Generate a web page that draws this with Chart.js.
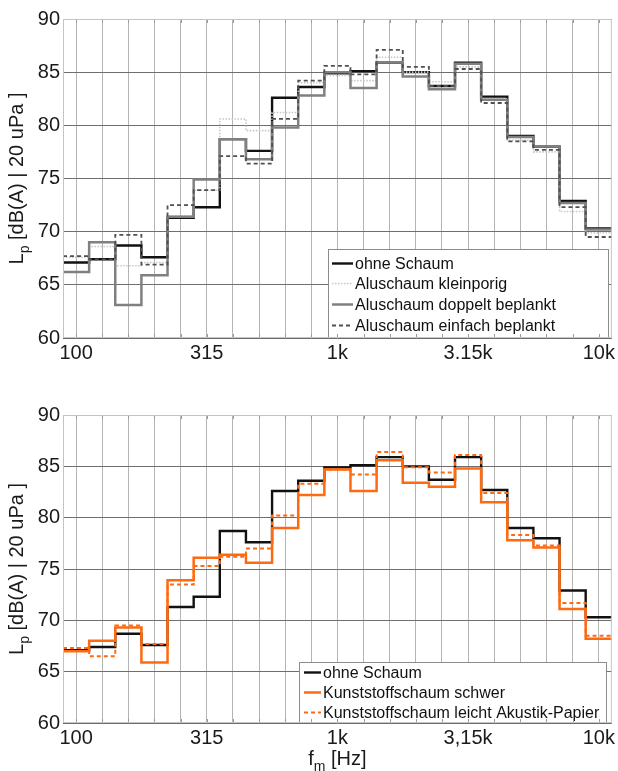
<!DOCTYPE html>
<html>
<head>
<meta charset="utf-8">
<title>Schalldruckpegel Terzspektren</title>
<script src="https://cdn.jsdelivr.net/npm/chart.js@4.4.1/dist/chart.umd.min.js"></script>
<style>
  html, body { margin: 0; padding: 0; background: #fff; }
  .panel { position: relative; width: 618px; }
  #panelTop { height: 380px; }
  #panelBottom { height: 391px; }
</style>
</head>
<body>
<div class="panel" id="panelTop"><canvas id="chartTop"></canvas></div>
<div class="panel" id="panelBottom"><canvas id="chartBottom"></canvas></div>
<script>
// Third-octave band centre frequencies (x categories)
const bands = ['100', '125', '160', '200', '250', '315', '400', '500', '630', '800',
  '1k', '1,25k', '1,6k', '2k', '2,5k', '3,15k', '4k', '5k', '6,3k', '8k', '10k'];

// Labelled x ticks (band index + text)
const tickIdx = [0, 5, 10, 15, 20];
const tickLabelsTop = ['100', '315', '1k', '3.15k', '10k'];
const tickLabelsBottom = ['100', '315', '1k', '3,15k', '10k'];

// y axis ticks, dB(A)
const yTicks = [60, 65, 70, 75, 80, 85, 90];

// Levels per band, dB(A)
const ohneSchaum    = [67.1, 67.4, 68.7, 67.6, 71.3, 72.3, 78.7, 77.6, 82.6, 83.6, 84.9, 85.1, 85.9, 85.0, 83.7, 85.9, 82.7, 79.0, 78.0, 72.9, 70.3];
const aluKleinporig = [67.6, 68.6, 66.8, 67.1, 71.5, 73.9, 80.6, 79.5, 81.2, 84.0, 84.7, 84.2, 86.4, 85.0, 84.1, 85.5, 82.5, 78.6, 77.5, 71.9, 69.9];
const aluDoppelt    = [66.2, 69.0, 63.1, 65.9, 71.4, 74.9, 78.7, 76.8, 79.8, 82.8, 85.0, 83.5, 85.9, 84.6, 83.4, 85.8, 82.4, 78.9, 78.0, 72.7, 70.2];
const aluEinfach    = [67.7, 67.4, 69.7, 66.9, 72.5, 73.9, 77.1, 76.4, 80.6, 84.2, 85.6, 84.8, 87.1, 85.5, 83.7, 85.3, 82.1, 78.5, 77.7, 72.3, 69.5];
const kunstSchwer   = [67.0, 68.0, 69.3, 65.9, 73.9, 76.1, 76.4, 75.6, 79.0, 82.2, 84.7, 82.6, 85.6, 83.4, 83.0, 84.8, 81.5, 77.8, 77.1, 71.1, 68.2];
const kunstLeicht   = [67.3, 66.5, 69.5, 67.7, 73.5, 75.3, 76.2, 77.0, 80.2, 83.3, 84.7, 84.2, 86.4, 84.9, 84.4, 86.1, 82.4, 78.3, 77.3, 71.7, 68.5];

const FONT = '"Liberation Sans", Arial, sans-serif';

// each band is drawn as a flat step from its lower to its upper band edge
function stepPoints(values) {
    const pts = values.map((v, i) => ({ x: i - 0.5, y: v }));
    pts.push({ x: values.length - 0.5, y: values[values.length - 1] });
    return pts;
}

function series(label, values, color, width, dash, order) {
    return {
        label: label,
        data: stepPoints(values),
        borderColor: color,
        borderWidth: width,
        borderDash: dash,
        stepped: true,
        pointRadius: 0,
        fill: false,
        order: order
    };
}

// draws text runs with optional subscripts, starting at x (baseline y)
function drawRuns(ctx, runs, x, y) {
    runs.forEach(r => {
        ctx.font = r.size + 'px ' + FONT;
        ctx.fillText(r.text, x, y + (r.dy || 0));
        x += ctx.measureText(r.text).width;
    });
}

function runsWidth(ctx, runs) {
    let w = 0;
    runs.forEach(r => {
        ctx.font = r.size + 'px ' + FONT;
        w += ctx.measureText(r.text).width;
    });
    return w;
}

// frame, inner tick marks, legend box and axis titles
const decorations = {
    id: 'decorations',
    afterDraw(chart, args, opts) {
        const ctx = chart.ctx;
        const a = chart.chartArea;
        const xs = chart.scales.x;
        ctx.save();

        // legend
        const lg = opts.legend;
        const x0 = Math.round(a.right - lg.marginRight - lg.width);
        const y0 = Math.round(a.bottom - lg.height);
        ctx.fillStyle = '#fff';
        ctx.fillRect(x0, y0, lg.width, lg.height);
        ctx.strokeStyle = '#8c8c8c';
        ctx.lineWidth = 1;
        ctx.strokeRect(x0 + 0.5, y0 + 0.5, lg.width - 1, lg.height - 1);
        ctx.font = '16px ' + FONT;
        ctx.textBaseline = 'middle';
        chart.data.datasets.forEach((ds, i) => {
            const y = Math.round(y0 + lg.firstRow + i * lg.rowHeight) + 0.5;
            ctx.strokeStyle = ds.borderColor;
            ctx.lineWidth = ds.borderWidth;
            ctx.setLineDash(ds.borderDash || []);
            ctx.beginPath();
            ctx.moveTo(x0 + lg.sampleStart, y);
            ctx.lineTo(x0 + lg.sampleStart + lg.sampleLen, y);
            ctx.stroke();
            ctx.setLineDash([]);
            ctx.fillStyle = '#111';
            ctx.fillText(ds.label, x0 + lg.sampleStart + lg.sampleLen + 2, y + 1);
        });

        // small inner tick marks at bottom and top
        ctx.strokeStyle = '#9a9a9a';
        ctx.lineWidth = 1;
        bands.forEach((b, i) => {
            const px = Math.round(xs.getPixelForValue(i)) + 0.5;
            ctx.beginPath();
            ctx.moveTo(px, a.bottom);
            ctx.lineTo(px, a.bottom - 4);
            ctx.moveTo(px, a.top);
            ctx.lineTo(px, a.top + 4);
            ctx.stroke();
        });

        // plot frame
        ctx.strokeStyle = '#c4c4c4';
        ctx.strokeRect(a.left + 0.5, a.top + 0.5, a.width - 1, a.height - 1);

        // y title: L_p [dB(A) | 20 uPa ]
        ctx.fillStyle = '#1a1a1a';
        ctx.textBaseline = 'alphabetic';
        const yRuns = [
            { text: 'L', size: 20 },
            { text: 'p', size: 14, dy: 6 },
            { text: ' [dB(A) | 20 uPa ]', size: 20 }
        ];
        ctx.save();
        ctx.translate(22.5, (a.top + a.bottom) / 2);
        ctx.rotate(-Math.PI / 2);
        drawRuns(ctx, yRuns, -runsWidth(ctx, yRuns) / 2, 0);
        ctx.restore();

        // x title: f_m [Hz]
        if (opts.xTitle) {
            const xRuns = [
                { text: 'f', size: 20 },
                { text: 'm', size: 14, dy: 6 },
                { text: ' [Hz]', size: 20 }
            ];
            drawRuns(ctx, xRuns, (a.left + a.right) / 2 - runsWidth(ctx, xRuns) / 2, opts.xTitle.y);
        }
        ctx.restore();
    }
};

function makeOptions(tickLabels, padTop, xHeight, decoOpts) {
    return {
        responsive: true,
        maintainAspectRatio: false,
        animation: false,
        events: [],
        layout: { padding: { top: padTop, right: 5, left: 0, bottom: 0 } },
        plugins: {
            legend: { display: false },
            tooltip: { enabled: false },
            decorations: decoOpts
        },
        scales: {
            x: {
                type: 'linear',
                min: -0.5,
                max: bands.length - 0.5,
                afterBuildTicks: scale => {
                    scale.ticks = bands.map((b, i) => ({ value: i }));
                },
                afterFit: scale => { scale.height = xHeight; },
                ticks: {
                    autoSkip: false,
                    maxRotation: 0,
                    padding: 3,
                    color: '#1a1a1a',
                    font: { family: FONT, size: 20 },
                    callback: value => {
                        const k = tickIdx.indexOf(value);
                        return k >= 0 ? tickLabels[k] : '';
                    }
                },
                grid: { color: '#b4b4b4', lineWidth: 1, drawTicks: false },
                border: { display: false }
            },
            y: {
                min: yTicks[0],
                max: yTicks[yTicks.length - 1],
                afterBuildTicks: scale => {
                    scale.ticks = yTicks.map(v => ({ value: v }));
                },
                afterFit: scale => { scale.width = 63; },
                ticks: {
                    padding: 3,
                    color: '#1a1a1a',
                    font: { family: FONT, size: 20 }
                },
                grid: { color: '#6e6e6e', lineWidth: 1, drawTicks: false },
                border: { display: false }
            }
        }
    };
}

new Chart(document.getElementById('chartTop'), {
    type: 'line',
    data: {
        datasets: [
            series('ohne Schaum', ohneSchaum, '#111111', 2.4, [], 4),
            series('Aluschaum kleinporig', aluKleinporig, '#c6c6c6', 1.6, [1.5, 1.5], 3),
            series('Aluschaum doppelt beplankt', aluDoppelt, '#808080', 2.5, [], 2),
            series('Aluschaum einfach beplankt', aluEinfach, '#505050', 1.8, [4, 3], 1)
        ]
    },
    options: makeOptions(tickLabelsTop, 19, 42, {
        legend: { width: 281, height: 89, marginRight: 3, firstRow: 13.7, rowHeight: 20.6, sampleStart: 4, sampleLen: 21 }
    }),
    plugins: [decorations]
});

new Chart(document.getElementById('chartBottom'), {
    type: 'line',
    data: {
        datasets: [
            series('ohne Schaum', ohneSchaum, '#111111', 2.4, [], 3),
            series('Kunststoffschaum schwer', kunstSchwer, '#ff6a10', 2.5, [], 2),
            series('Kunststoffschaum leicht Akustik-Papier', kunstLeicht, '#ff6a10', 2, [4, 3], 1)
        ]
    },
    options: makeOptions(tickLabelsBottom, 35, 48, {
        legend: { width: 308, height: 61, marginRight: 5, firstRow: 10.2, rowHeight: 20, sampleStart: 5, sampleLen: 17 },
        xTitle: { y: 385 }
    }),
    plugins: [decorations]
});
</script>
</body>
</html>
